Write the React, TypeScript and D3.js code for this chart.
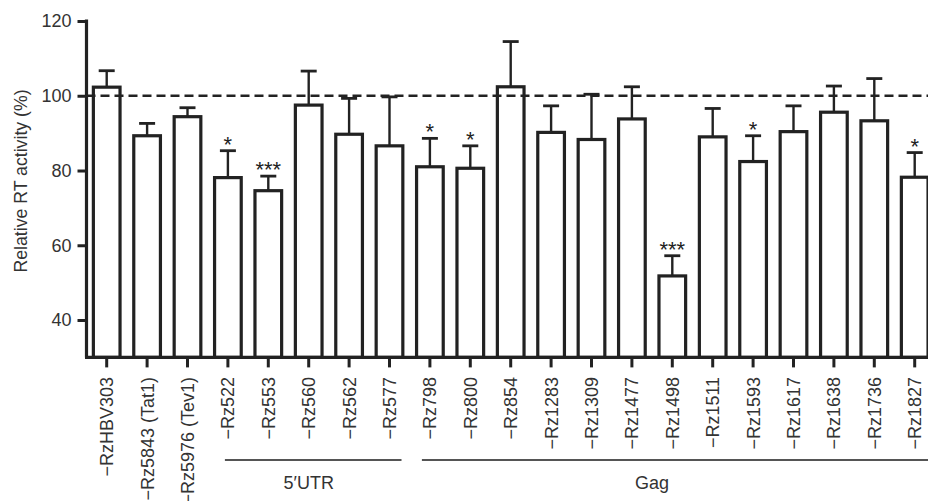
import React, { useEffect, useRef } from 'react';
import * as d3 from 'd3';

// ribozyme constructs, in the order they are plotted
const labels = [
  '−RzHBV303', '−Rz5843 (Tat1)', '−Rz5976 (Tev1)', '−Rz522', '−Rz553', '−Rz560', '−Rz562', '−Rz577',
  '−Rz798', '−Rz800', '−Rz854', '−Rz1283', '−Rz1309', '−Rz1477', '−Rz1498', '−Rz1511', '−Rz1593',
  '−Rz1617', '−Rz1638', '−Rz1736', '−Rz1827',
];
const means = [102.3, 89.3, 94.4, 78.1, 74.6, 97.5, 89.7, 86.6, 81.0, 80.6, 102.4, 90.2, 88.3, 93.8, 51.8, 89.0, 82.4, 90.4, 95.6, 93.3, 78.2];
const errors = [4.4, 3.3, 2.4, 7.2, 3.9, 9.1, 9.6, 13.1, 7.6, 6.0, 12.1, 7.1, 12.1, 8.6, 5.4, 7.6, 6.9, 6.9, 7.0, 11.3, 6.6];
const stars = ['', '', '', '*', '***', '', '', '', '*', '*', '', '', '', '', '***', '', '*', '', '', '', '*'];
const yTicks = [40, 60, 80, 100, 120];

// region brackets under the axis
const groupNames = ['5′UTR', 'Gag'];
const groupFirst = ['−Rz522', '−Rz798'];
const groupLast = ['−Rz577', '−Rz1827'];
const groupLabelAt = [5, 13.5];

const W = 928;
const H = 501;
const FONT = 'Liberation Sans, Arial, Helvetica, sans-serif';

const App = () => {
  const ref = useRef<SVGSVGElement>(null);

  useEffect(() => {
    const svg = d3.select(ref.current);
    svg.selectAll('*').remove();

    const x = d3.scaleBand()
      .domain(labels)
      .range([86.5, 934.9])
      .paddingInner(0.34)
      .paddingOuter(0.17);
    const bw = x.bandwidth();
    const xc = (l: string) => (x(l) as number) + bw / 2;

    const y = d3.scaleLinear().domain([30, 120]).range([357.4, 21]);
    const base = y(30);

    // bars
    svg.append('g')
      .selectAll('rect')
      .data(labels)
      .join('rect')
      .attr('x', d => x(d) as number)
      .attr('y', (d, i) => y(means[i]))
      .attr('width', bw)
      .attr('height', (d, i) => base - y(means[i]))
      .attr('fill', 'white')
      .attr('stroke', '#222')
      .attr('stroke-width', 3.2);

    // error bars (upper only)
    const err = svg.append('g').attr('stroke', '#222').attr('stroke-width', 2.4);
    labels.forEach((l, i) => {
      const top = y(means[i] + errors[i]);
      err.append('line')
        .attr('x1', xc(l)).attr('x2', xc(l))
        .attr('y1', y(means[i])).attr('y2', top);
      err.append('line')
        .attr('x1', xc(l) - 8).attr('x2', xc(l) + 8)
        .attr('y1', top).attr('y2', top)
        .attr('stroke-width', 2.8);
    });

    // significance stars
    svg.append('g')
      .attr('font-family', FONT)
      .attr('font-size', 22)
      .attr('fill', '#222')
      .attr('text-anchor', 'middle')
      .selectAll('text')
      .data(labels.filter((l, i) => stars[i]))
      .join('text')
      .attr('x', d => xc(d))
      .attr('y', d => {
        const i = labels.indexOf(d);
        return y(means[i] + errors[i]) + 1;
      })
      .text(d => stars[labels.indexOf(d)]);

    // reference line at 100 %
    svg.append('line')
      .attr('x1', 86.5).attr('x2', W)
      .attr('y1', y(100)).attr('y2', y(100))
      .attr('stroke', '#222')
      .attr('stroke-width', 2.4)
      .attr('stroke-dasharray', '9,5');

    // y axis
    const yAxis = svg.append('g')
      .attr('transform', 'translate(86.5,0)')
      .call(d3.axisLeft(y).tickValues(yTicks).tickSize(9).tickPadding(6));
    yAxis.select('.domain')
      .attr('d', `M0,${y(120) - 1.5}V${base}`)
      .attr('stroke', '#222').attr('stroke-width', 3.2);
    yAxis.selectAll('.tick line').attr('stroke', '#222').attr('stroke-width', 3);
    yAxis.selectAll('.tick text')
      .attr('font-family', FONT).attr('font-size', 18).attr('fill', '#333');

    // x axis
    const xAxis = svg.append('g')
      .attr('transform', `translate(0,${base})`)
      .call(d3.axisBottom(x).tickSize(10).tickSizeOuter(0));
    xAxis.select('.domain')
      .attr('d', `M85,0H${W}`)
      .attr('stroke', '#222').attr('stroke-width', 3.2);
    xAxis.selectAll('.tick line').attr('stroke', '#222').attr('stroke-width', 3);
    xAxis.selectAll('.tick text')
      .attr('font-family', FONT).attr('font-size', 18).attr('fill', '#333')
      .attr('transform', 'rotate(-90)')
      .attr('text-anchor', 'end')
      .attr('x', -19.5)
      .attr('y', 0)
      .attr('dy', '0.36em');

    // y axis title
    svg.append('text')
      .attr('transform', `translate(27,181) rotate(-90)`)
      .attr('text-anchor', 'middle')
      .attr('font-family', FONT)
      .attr('font-size', 17.7)
      .attr('fill', '#333')
      .text('Relative RT activity (%)');

    // group brackets
    const gx = (k: number) => {
      const lo = Math.floor(k);
      const hi = Math.ceil(k);
      return (xc(labels[lo]) + xc(labels[hi])) / 2;
    };
    groupNames.forEach((g, i) => {
      const start = xc(groupFirst[i]) - (i === 0 ? 3 : 8);
      const end = i === groupNames.length - 1 ? W : xc(groupLast[i]) + 12;
      svg.append('line')
        .attr('x1', start).attr('x2', end)
        .attr('y1', 460).attr('y2', 460)
        .attr('stroke', '#555').attr('stroke-width', 2);
      svg.append('text')
        .attr('x', gx(groupLabelAt[i]))
        .attr('y', 489)
        .attr('text-anchor', 'middle')
        .attr('font-family', FONT)
        .attr('font-size', 18)
        .attr('fill', '#333')
        .text(g);
    });
  }, []);

  return (
    <svg ref={ref} width={W} height={H} style={{ position: 'absolute', left: 0, top: 0, background: 'white' }} />
  );
};

export default App;
